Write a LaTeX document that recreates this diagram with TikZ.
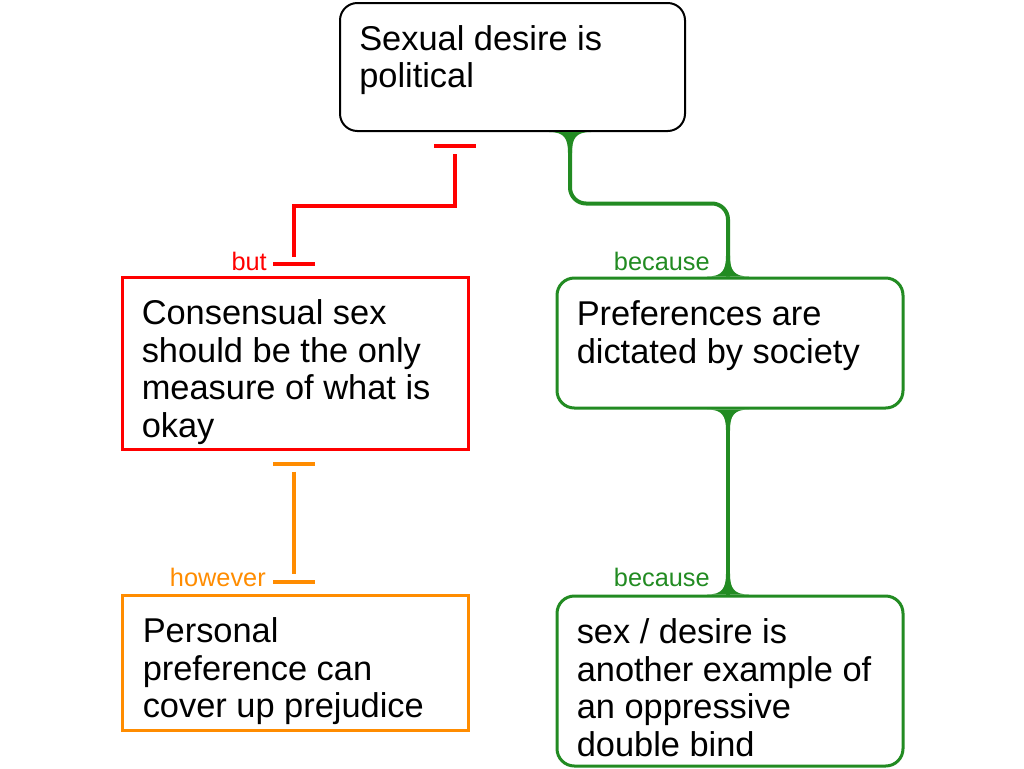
\documentclass[tikz,border=0pt]{standalone}
\usepackage{fontspec}
\setmainfont{Liberation Sans}
\definecolor{rebut}{RGB}{255,0,0}
\definecolor{undercut}{RGB}{255,140,0}
\definecolor{reason}{RGB}{34,139,34}

\begin{document}
\begin{tikzpicture}[x=0.75pt,y=-0.75pt,
  claim/.style={draw, line width=1.5pt, rounded corners=13pt},
  plainbox/.style={draw, line width=2.25pt},
  roundbox/.style={draw, line width=2.25pt, rounded corners=13pt},
  txt/.style={anchor=north west, inner sep=0pt, align=left, font=\fontsize{25.8}{28.1}\selectfont},
  lbl/.style={anchor=base east, inner sep=0pt, font=\fontsize{19}{21}\selectfont},
  link/.style={line width=3pt},
  flare/.pic={\fill[reason] (-21,0) .. controls (-6,0) and (-2,6) .. (-2,21) -- (2,21) .. controls (2,6) and (6,0) .. (21,0) -- cycle;}]
\useasboundingbox (0,0) rectangle (1024,768);
\node[claim, minimum width=258.75pt, minimum height=96pt] (pol) at (512.5,67) {};
\node[plainbox, draw=rebut, minimum width=259.5pt, minimum height=129pt] (cons) at (295,363) {};
\node[plainbox, draw=undercut, minimum width=259.5pt, minimum height=101.25pt] (pers) at (295,662.5) {};
\node[roundbox, draw=reason, minimum width=259.5pt, minimum height=97.5pt] (soc) at (730,343) {};
\node[roundbox, draw=reason, minimum width=259.5pt, minimum height=127.5pt] (dbl) at (730,681) {};
\node[txt] (polt) at ([shift={(20,23)}]pol.north west) {Sexual desire is\\political};
\node[txt] (const) at ([shift={(21,24)}]cons.north west) {Consensual sex\\should be the only\\measure of what is\\okay};
\node[txt] (perst) at ([shift={(22,24)}]pers.north west) {Personal\\preference can\\cover up prejudice};
\node[txt] (soct) at ([shift={(21,24)}]soc.north west) {Preferences are\\dictated by society};
\node[txt] (dblt) at ([shift={(21,24)}]dbl.north west) {sex / desire is\\another example of\\an oppressive\\double bind};
% Labels:
\node[lbl, text=rebut] (butl) at ([shift={(-28,-5)}]cons.north) {but};
\node[lbl, text=undercut] (howl) at ([shift={(-29,-7)}]pers.north) {however};
\node[lbl, text=reason] (bec1) at ([shift={(-20,-6)}]soc.north) {because};
\node[lbl, text=reason] (bec2) at ([shift={(-20,-8)}]dbl.north) {because};
% Attacks:
\draw[link, rebut] ([shift={(-78.5,14)}]pol.south) -- ++(42,0);
\draw[link, rebut] ([shift={(-57.5,22)}]pol.south) -- ++(0,52) -| ([shift={(-1,-19)}]cons.north);
\draw[link, rebut] ([shift={(-22,-12)}]cons.north) -- ++(42,0);
\draw[link, undercut] ([shift={(-22,13)}]cons.south) -- ++(42,0);
\draw[link, undercut] ([shift={(-1,21)}]cons.south) -- ([shift={(-1,-20)}]pers.north);
\draw[link, undercut] ([shift={(-22,-12)}]pers.north) -- ++(42,0);
% Supports:
\draw[link, reason, rounded corners=12pt] ([shift={(57.5,0)}]pol.south) |- ([shift={(-2,-73)}]soc.north) -- ([shift={(-2,0)}]soc.north);
\pic at ([shift={(57.5,0)}]pol.south) {flare};
\pic[yscale=-1] at ([shift={(-2,0)}]soc.north) {flare};
\draw[link, reason] ([shift={(-2,0)}]soc.south) -- ([shift={(-2,0)}]dbl.north);
\pic at ([shift={(-2,0)}]soc.south) {flare};
\pic[yscale=-1] at ([shift={(-2,0)}]dbl.north) {flare};
\end{tikzpicture}
\end{document}
